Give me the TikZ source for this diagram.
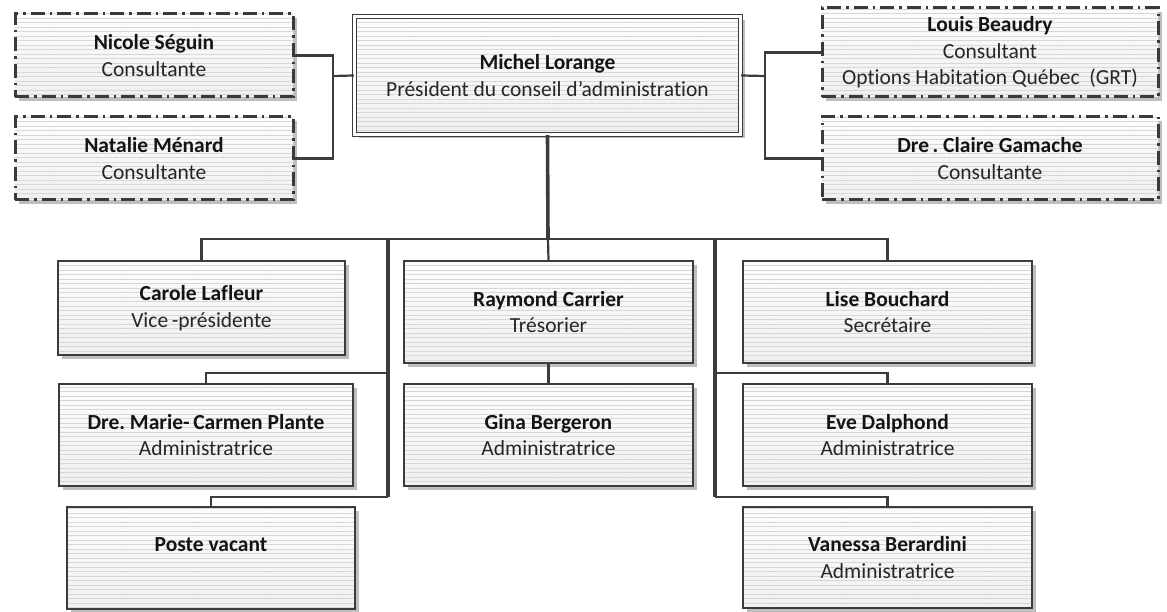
\documentclass[tikz,border=0pt]{standalone}
\usepackage{fontspec}
\setmainfont[Ligatures=NoCommon]{Carlito}
\usetikzlibrary{shadows,patterns.meta}
\definecolor{ln}{HTML}{3C3C3C}
\definecolor{dln}{HTML}{3A3A3A}
\definecolor{txt}{HTML}{141414}
\definecolor{sub}{HTML}{262626}
\definecolor{stripe}{HTML}{D6D6D6}
\definecolor{shade}{HTML}{BEBEBE}
\frenchspacing
\begin{document}
\begin{tikzpicture}[x=1pt,y=-1pt,
  sz/.style 2 args={minimum width=#1pt, minimum height=#2pt},
  box/.style={rectangle, draw=ln, line width=1.6pt, inner sep=0pt, align=center,
    font=\fontsize{21.5}{26.5}\selectfont, text=txt,
    drop shadow={shadow xshift=4pt, shadow yshift=-4pt, fill=shade, opacity=1},
    preaction={top color=gray!2, bottom color=gray!12},
    pattern={Lines[angle=0,distance=4.5pt,line width=0.5pt]}, pattern color=stripe},
  cbox/.style={box, draw=dln, line width=3pt, dash pattern=on 14pt off 5pt on 2.5pt off 5pt},
  pbox/.style={box, double=white, double distance=2.8pt, line width=1.3pt},
  conn/.style={draw=ln, line width=2.2pt},
  bus/.style={draw=ln, line width=2.8pt},
  trunk/.style={draw=ln, line width=3.6pt}
]
\useasboundingbox (0,0) rectangle (1167,612);

% top row
\node[cbox, sz={278}{83}] (nicole) at (154,55.5) {\textbf{Nicole Séguin}\\{\color{sub}Consultante}};
\node[cbox, sz={278}{83}] (natalie) at (154,158.5) {\textbf{Natalie Ménard}\\{\color{sub}Consultante}};
\node[pbox, sz={386}{118}] (michel) at (547.5,75.5) {\textbf{Michel Lorange}\\{\color{sub}Président du conseil d’administration}};
\node[cbox, sz={336}{89}] (louis) at (990,52.5) {\textbf{Louis Beaudry}\\{\color{sub}Consultant}\\{\color{sub}Options Habitation Québec~~(GRT)}};
\node[cbox, sz={336}{83}] (claire) at (990,158.5) {\textbf{Dre\,. Claire Gamache}\\{\color{sub}Consultante}};

% lower rows
\node[box, sz={287}{94}] (carole) at (201.5,308) {\textbf{Carole Lafleur}\\{\color{sub}Vice\,-présidente}};
\node[box, sz={294}{102}] (marie) at (206,435) {\textbf{Dre. Marie-\,Carmen Plante}\\{\color{sub}Administratrice}};
\node[box, sz={288}{102}] (poste) at (211,558) {\textbf{Poste vacant}\\\mbox{}};
\node[box, sz={289}{102}] (raymond) at (548.5,312) {\textbf{Raymond Carrier}\\{\color{sub}Trésorier}};
\node[box, sz={289}{102}] (gina) at (548.5,435) {\textbf{Gina Bergeron}\\{\color{sub}Administratrice}};
\node[box, sz={289}{102}] (lise) at (887.5,312) {\textbf{Lise Bouchard}\\{\color{sub}Secrétaire}};
\node[box, sz={289}{102}] (eve) at (887.5,435) {\textbf{Eve Dalphond}\\{\color{sub}Administratrice}};
\node[box, sz={289}{101}] (vanessa) at (887.5,557.5) {\textbf{Vanessa Berardini}\\{\color{sub}Administratrice}};

% junction coordinates
\coordinate (lj) at (333,76);
\coordinate (rj) at (765,76);
\coordinate (bus) at (548,239);
\coordinate (lv) at (388,239);
\coordinate (lv1) at (388,373);
\coordinate (lv2) at (388,497);
\coordinate (rv) at (715,239);
\coordinate (rv1) at (715,373);
\coordinate (rv2) at (715,497);

% consultants
\draw[conn] (nicole.east) -| (lj) |- (natalie.east);
\draw[conn] (lj) -- (michel.west);
\draw[conn] (louis.west) -| (rj) |- (claire.west);
\draw[conn] (rj) -- (michel.east);

% main trunk and bus
\draw[trunk] (michel.south) -- (bus);
\draw[bus] (carole.north) |- (bus) -| (lise.north);
\draw[conn] (bus) -- (raymond.north);
\draw[conn] (raymond.south) -- (gina.north);

% left branch
\draw[trunk] (lv) -- (lv2);
\draw[conn] (lv1) -| (marie.north);
\draw[conn] (lv2) -| (poste.north);

% right branch
\draw[trunk] (rv) -- (rv2);
\draw[conn] (rv1) -| (eve.north);
\draw[conn] (rv2) -| (vanessa.north);
\end{tikzpicture}
\end{document}
